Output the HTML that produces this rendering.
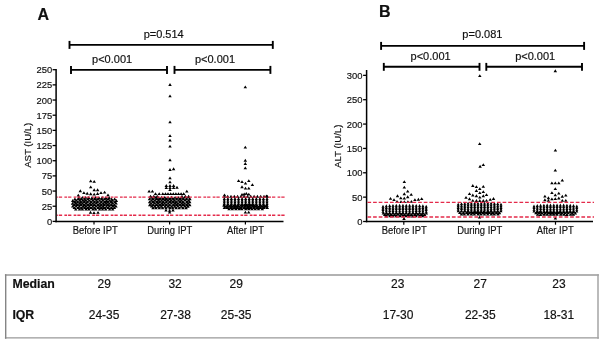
<!DOCTYPE html>
<html><head><meta charset="utf-8"><style>
html,body{margin:0;padding:0;background:#fff;width:604px;height:344px;overflow:hidden}
svg{display:block;will-change:transform}
text{font-family:"Liberation Sans",sans-serif;fill:#111;stroke:#111;stroke-width:0.18px}
</style></head><body>
<svg width="604" height="344" viewBox="0 0 604 344">
<line x1="56.10" y1="69.00" x2="56.10" y2="222.15" stroke="#000" stroke-width="1.50"/>
<line x1="55.35" y1="221.40" x2="283.50" y2="221.40" stroke="#000" stroke-width="1.50"/>
<line x1="52.60" y1="221.40" x2="56.10" y2="221.40" stroke="#000" stroke-width="1.30"/>
<text x="52.30" y="224.90" font-size="9.90" text-anchor="end" font-weight="normal" textLength="5.23" lengthAdjust="spacingAndGlyphs">0</text>
<line x1="52.60" y1="206.23" x2="56.10" y2="206.23" stroke="#000" stroke-width="1.30"/>
<text x="52.30" y="209.73" font-size="9.90" text-anchor="end" font-weight="normal" textLength="10.45" lengthAdjust="spacingAndGlyphs">25</text>
<line x1="52.60" y1="191.06" x2="56.10" y2="191.06" stroke="#000" stroke-width="1.30"/>
<text x="52.30" y="194.56" font-size="9.90" text-anchor="end" font-weight="normal" textLength="10.45" lengthAdjust="spacingAndGlyphs">50</text>
<line x1="52.60" y1="175.89" x2="56.10" y2="175.89" stroke="#000" stroke-width="1.30"/>
<text x="52.30" y="179.39" font-size="9.90" text-anchor="end" font-weight="normal" textLength="10.45" lengthAdjust="spacingAndGlyphs">75</text>
<line x1="52.60" y1="160.72" x2="56.10" y2="160.72" stroke="#000" stroke-width="1.30"/>
<text x="52.30" y="164.22" font-size="9.90" text-anchor="end" font-weight="normal" textLength="15.68" lengthAdjust="spacingAndGlyphs">100</text>
<line x1="52.60" y1="145.55" x2="56.10" y2="145.55" stroke="#000" stroke-width="1.30"/>
<text x="52.30" y="149.05" font-size="9.90" text-anchor="end" font-weight="normal" textLength="15.68" lengthAdjust="spacingAndGlyphs">125</text>
<line x1="52.60" y1="130.38" x2="56.10" y2="130.38" stroke="#000" stroke-width="1.30"/>
<text x="52.30" y="133.88" font-size="9.90" text-anchor="end" font-weight="normal" textLength="15.68" lengthAdjust="spacingAndGlyphs">150</text>
<line x1="52.60" y1="115.21" x2="56.10" y2="115.21" stroke="#000" stroke-width="1.30"/>
<text x="52.30" y="118.71" font-size="9.90" text-anchor="end" font-weight="normal" textLength="15.68" lengthAdjust="spacingAndGlyphs">175</text>
<line x1="52.60" y1="100.04" x2="56.10" y2="100.04" stroke="#000" stroke-width="1.30"/>
<text x="52.30" y="103.54" font-size="9.90" text-anchor="end" font-weight="normal" textLength="15.68" lengthAdjust="spacingAndGlyphs">200</text>
<line x1="52.60" y1="84.87" x2="56.10" y2="84.87" stroke="#000" stroke-width="1.30"/>
<text x="52.30" y="88.37" font-size="9.90" text-anchor="end" font-weight="normal" textLength="15.68" lengthAdjust="spacingAndGlyphs">225</text>
<line x1="52.60" y1="69.70" x2="56.10" y2="69.70" stroke="#000" stroke-width="1.30"/>
<text x="52.30" y="73.20" font-size="9.90" text-anchor="end" font-weight="normal" textLength="15.68" lengthAdjust="spacingAndGlyphs">250</text>
<line x1="94.00" y1="221.40" x2="94.00" y2="224.60" stroke="#000" stroke-width="1.20"/>
<text x="95.20" y="233.70" font-size="10.10" text-anchor="middle" font-weight="normal" textLength="44.99" lengthAdjust="spacingAndGlyphs">Before IPT</text>
<line x1="169.60" y1="221.40" x2="169.60" y2="224.60" stroke="#000" stroke-width="1.20"/>
<text x="169.80" y="233.70" font-size="10.10" text-anchor="middle" font-weight="normal" textLength="44.98" lengthAdjust="spacingAndGlyphs">During IPT</text>
<line x1="245.40" y1="221.40" x2="245.40" y2="224.60" stroke="#000" stroke-width="1.20"/>
<text x="245.50" y="233.70" font-size="10.10" text-anchor="middle" font-weight="normal" textLength="36.98" lengthAdjust="spacingAndGlyphs">After IPT</text>
<line x1="69.50" y1="44.90" x2="272.80" y2="44.90" stroke="#000" stroke-width="1.90"/>
<line x1="69.50" y1="40.90" x2="69.50" y2="48.90" stroke="#000" stroke-width="1.90"/>
<line x1="272.80" y1="40.90" x2="272.80" y2="48.90" stroke="#000" stroke-width="1.90"/>
<line x1="71.00" y1="69.90" x2="167.00" y2="69.90" stroke="#000" stroke-width="1.90"/>
<line x1="71.00" y1="65.90" x2="71.00" y2="73.90" stroke="#000" stroke-width="1.90"/>
<line x1="167.00" y1="65.90" x2="167.00" y2="73.90" stroke="#000" stroke-width="1.90"/>
<line x1="174.50" y1="69.90" x2="270.40" y2="69.90" stroke="#000" stroke-width="1.90"/>
<line x1="174.50" y1="65.90" x2="174.50" y2="73.90" stroke="#000" stroke-width="1.90"/>
<line x1="270.40" y1="65.90" x2="270.40" y2="73.90" stroke="#000" stroke-width="1.90"/>
<text x="163.70" y="38.30" font-size="11.00" text-anchor="middle" font-weight="normal">p=0.514</text>
<text x="112.10" y="62.90" font-size="11.00" text-anchor="middle" font-weight="normal">p&lt;0.001</text>
<text x="215.00" y="62.90" font-size="11.00" text-anchor="middle" font-weight="normal">p&lt;0.001</text>
<text x="37.60" y="19.60" font-size="16.00" text-anchor="start" font-weight="bold">A</text>
<text x="0.00" y="0.00" font-size="9.60" text-anchor="middle" font-weight="normal" transform="translate(30.9 145.3) rotate(-90)">AST (IU/L)</text>
<line x1="366.60" y1="70.00" x2="366.60" y2="222.25" stroke="#000" stroke-width="1.50"/>
<line x1="365.85" y1="221.50" x2="593.00" y2="221.50" stroke="#000" stroke-width="1.50"/>
<line x1="363.10" y1="221.50" x2="366.60" y2="221.50" stroke="#000" stroke-width="1.30"/>
<text x="362.50" y="225.00" font-size="9.90" text-anchor="end" font-weight="normal" textLength="5.23" lengthAdjust="spacingAndGlyphs">0</text>
<line x1="363.10" y1="197.14" x2="366.60" y2="197.14" stroke="#000" stroke-width="1.30"/>
<text x="362.50" y="200.64" font-size="9.90" text-anchor="end" font-weight="normal" textLength="10.45" lengthAdjust="spacingAndGlyphs">50</text>
<line x1="363.10" y1="172.78" x2="366.60" y2="172.78" stroke="#000" stroke-width="1.30"/>
<text x="362.50" y="176.28" font-size="9.90" text-anchor="end" font-weight="normal" textLength="15.68" lengthAdjust="spacingAndGlyphs">100</text>
<line x1="363.10" y1="148.43" x2="366.60" y2="148.43" stroke="#000" stroke-width="1.30"/>
<text x="362.50" y="151.93" font-size="9.90" text-anchor="end" font-weight="normal" textLength="15.68" lengthAdjust="spacingAndGlyphs">150</text>
<line x1="363.10" y1="124.07" x2="366.60" y2="124.07" stroke="#000" stroke-width="1.30"/>
<text x="362.50" y="127.57" font-size="9.90" text-anchor="end" font-weight="normal" textLength="15.68" lengthAdjust="spacingAndGlyphs">200</text>
<line x1="363.10" y1="99.71" x2="366.60" y2="99.71" stroke="#000" stroke-width="1.30"/>
<text x="362.50" y="103.21" font-size="9.90" text-anchor="end" font-weight="normal" textLength="15.68" lengthAdjust="spacingAndGlyphs">250</text>
<line x1="363.10" y1="75.35" x2="366.60" y2="75.35" stroke="#000" stroke-width="1.30"/>
<text x="362.50" y="78.85" font-size="9.90" text-anchor="end" font-weight="normal" textLength="15.68" lengthAdjust="spacingAndGlyphs">300</text>
<line x1="403.80" y1="221.50" x2="403.80" y2="224.70" stroke="#000" stroke-width="1.20"/>
<text x="404.20" y="233.90" font-size="10.10" text-anchor="middle" font-weight="normal" textLength="44.99" lengthAdjust="spacingAndGlyphs">Before IPT</text>
<line x1="479.40" y1="221.50" x2="479.40" y2="224.70" stroke="#000" stroke-width="1.20"/>
<text x="479.80" y="233.90" font-size="10.10" text-anchor="middle" font-weight="normal" textLength="44.98" lengthAdjust="spacingAndGlyphs">During IPT</text>
<line x1="555.50" y1="221.50" x2="555.50" y2="224.70" stroke="#000" stroke-width="1.20"/>
<text x="555.20" y="233.90" font-size="10.10" text-anchor="middle" font-weight="normal" textLength="36.98" lengthAdjust="spacingAndGlyphs">After IPT</text>
<line x1="381.10" y1="45.90" x2="584.10" y2="45.90" stroke="#000" stroke-width="1.90"/>
<line x1="381.10" y1="41.90" x2="381.10" y2="49.90" stroke="#000" stroke-width="1.90"/>
<line x1="584.10" y1="41.90" x2="584.10" y2="49.90" stroke="#000" stroke-width="1.90"/>
<line x1="383.80" y1="66.80" x2="479.50" y2="66.80" stroke="#000" stroke-width="1.90"/>
<line x1="383.80" y1="62.90" x2="383.80" y2="70.80" stroke="#000" stroke-width="1.90"/>
<line x1="479.50" y1="62.90" x2="479.50" y2="70.80" stroke="#000" stroke-width="1.90"/>
<line x1="486.30" y1="66.80" x2="582.00" y2="66.80" stroke="#000" stroke-width="1.90"/>
<line x1="486.30" y1="62.90" x2="486.30" y2="70.80" stroke="#000" stroke-width="1.90"/>
<line x1="582.00" y1="62.90" x2="582.00" y2="70.80" stroke="#000" stroke-width="1.90"/>
<text x="482.40" y="38.40" font-size="11.00" text-anchor="middle" font-weight="normal">p=0.081</text>
<text x="430.60" y="60.40" font-size="11.00" text-anchor="middle" font-weight="normal">p&lt;0.001</text>
<text x="535.20" y="59.60" font-size="11.00" text-anchor="middle" font-weight="normal">p&lt;0.001</text>
<text x="379.00" y="16.70" font-size="16.00" text-anchor="start" font-weight="bold">B</text>
<text x="0.00" y="0.00" font-size="9.60" text-anchor="middle" font-weight="normal" transform="translate(340.6 146.3) rotate(-90)">ALT (IU/L)</text>
<path d="M77.07 198.82h3.50l-1.75 -2.85zM80.62 198.80h3.50l-1.75 -2.85zM83.90 198.87h3.50l-1.75 -2.85zM86.96 198.90h3.50l-1.75 -2.85zM90.30 198.88h3.50l-1.75 -2.85zM93.67 198.80h3.50l-1.75 -2.85zM97.23 198.98h3.50l-1.75 -2.85zM100.40 198.83h3.50l-1.75 -2.85zM104.05 199.01h3.50l-1.75 -2.85zM107.37 198.88h3.50l-1.75 -2.85zM73.16 200.24h3.50l-1.75 -2.85zM76.44 200.30h3.50l-1.75 -2.85zM79.36 200.26h3.50l-1.75 -2.85zM82.81 200.43h3.50l-1.75 -2.85zM86.08 200.37h3.50l-1.75 -2.85zM89.71 200.32h3.50l-1.75 -2.85zM93.01 200.25h3.50l-1.75 -2.85zM96.06 200.28h3.50l-1.75 -2.85zM99.78 200.33h3.50l-1.75 -2.85zM102.92 200.37h3.50l-1.75 -2.85zM106.35 200.30h3.50l-1.75 -2.85zM109.90 200.40h3.50l-1.75 -2.85zM112.92 200.37h3.50l-1.75 -2.85zM70.99 201.89h3.50l-1.75 -2.85zM74.46 201.75h3.50l-1.75 -2.85zM77.96 201.71h3.50l-1.75 -2.85zM80.98 201.86h3.50l-1.75 -2.85zM84.17 201.80h3.50l-1.75 -2.85zM87.45 201.84h3.50l-1.75 -2.85zM91.23 201.82h3.50l-1.75 -2.85zM94.65 201.76h3.50l-1.75 -2.85zM97.89 201.82h3.50l-1.75 -2.85zM101.17 201.79h3.50l-1.75 -2.85zM104.68 201.91h3.50l-1.75 -2.85zM107.81 201.84h3.50l-1.75 -2.85zM110.91 201.85h3.50l-1.75 -2.85zM114.61 201.92h3.50l-1.75 -2.85zM72.84 203.20h3.50l-1.75 -2.85zM75.93 203.29h3.50l-1.75 -2.85zM79.06 203.24h3.50l-1.75 -2.85zM82.50 203.16h3.50l-1.75 -2.85zM85.79 203.31h3.50l-1.75 -2.85zM89.18 203.19h3.50l-1.75 -2.85zM92.68 203.34h3.50l-1.75 -2.85zM95.85 203.24h3.50l-1.75 -2.85zM99.48 203.34h3.50l-1.75 -2.85zM102.99 203.34h3.50l-1.75 -2.85zM106.02 203.23h3.50l-1.75 -2.85zM109.42 203.34h3.50l-1.75 -2.85zM113.12 203.17h3.50l-1.75 -2.85zM70.78 204.64h3.50l-1.75 -2.85zM74.17 204.70h3.50l-1.75 -2.85zM77.73 204.64h3.50l-1.75 -2.85zM80.73 204.68h3.50l-1.75 -2.85zM84.30 204.72h3.50l-1.75 -2.85zM88.00 204.75h3.50l-1.75 -2.85zM91.08 204.73h3.50l-1.75 -2.85zM94.53 204.59h3.50l-1.75 -2.85zM98.01 204.77h3.50l-1.75 -2.85zM101.35 204.77h3.50l-1.75 -2.85zM104.41 204.68h3.50l-1.75 -2.85zM107.59 204.73h3.50l-1.75 -2.85zM110.91 204.60h3.50l-1.75 -2.85zM114.35 204.62h3.50l-1.75 -2.85zM72.55 206.04h3.50l-1.75 -2.85zM75.70 206.07h3.50l-1.75 -2.85zM79.11 206.12h3.50l-1.75 -2.85zM82.42 206.24h3.50l-1.75 -2.85zM86.12 206.07h3.50l-1.75 -2.85zM89.25 206.11h3.50l-1.75 -2.85zM92.67 206.06h3.50l-1.75 -2.85zM96.31 206.27h3.50l-1.75 -2.85zM99.43 206.15h3.50l-1.75 -2.85zM102.55 206.05h3.50l-1.75 -2.85zM106.06 206.09h3.50l-1.75 -2.85zM109.70 206.07h3.50l-1.75 -2.85zM112.56 206.26h3.50l-1.75 -2.85zM70.99 207.52h3.50l-1.75 -2.85zM74.35 207.49h3.50l-1.75 -2.85zM77.69 207.71h3.50l-1.75 -2.85zM81.24 207.65h3.50l-1.75 -2.85zM84.23 207.57h3.50l-1.75 -2.85zM87.53 207.67h3.50l-1.75 -2.85zM91.09 207.67h3.50l-1.75 -2.85zM94.32 207.53h3.50l-1.75 -2.85zM97.96 207.72h3.50l-1.75 -2.85zM101.34 207.67h3.50l-1.75 -2.85zM104.67 207.66h3.50l-1.75 -2.85zM107.66 207.60h3.50l-1.75 -2.85zM111.09 207.49h3.50l-1.75 -2.85zM114.24 207.55h3.50l-1.75 -2.85zM72.51 209.10h3.50l-1.75 -2.85zM76.27 209.04h3.50l-1.75 -2.85zM79.61 209.17h3.50l-1.75 -2.85zM82.97 209.02h3.50l-1.75 -2.85zM85.88 208.98h3.50l-1.75 -2.85zM89.22 208.98h3.50l-1.75 -2.85zM92.82 209.15h3.50l-1.75 -2.85zM96.30 209.05h3.50l-1.75 -2.85zM99.54 209.12h3.50l-1.75 -2.85zM102.55 209.09h3.50l-1.75 -2.85zM106.40 209.12h3.50l-1.75 -2.85zM109.65 209.04h3.50l-1.75 -2.85zM112.66 209.12h3.50l-1.75 -2.85zM73.97 210.57h3.50l-1.75 -2.85zM77.71 210.48h3.50l-1.75 -2.85zM80.72 210.61h3.50l-1.75 -2.85zM84.26 210.42h3.50l-1.75 -2.85zM87.25 210.42h3.50l-1.75 -2.85zM91.07 210.57h3.50l-1.75 -2.85zM93.96 210.58h3.50l-1.75 -2.85zM97.81 210.54h3.50l-1.75 -2.85zM100.79 210.51h3.50l-1.75 -2.85zM104.00 210.38h3.50l-1.75 -2.85zM107.86 210.54h3.50l-1.75 -2.85zM110.94 210.60h3.50l-1.75 -2.85zM88.95 182.30h3.50l-1.75 -2.85zM92.45 182.80h3.50l-1.75 -2.85zM88.95 188.30h3.50l-1.75 -2.85zM92.45 191.20h3.50l-1.75 -2.85zM95.85 191.20h3.50l-1.75 -2.85zM78.55 192.20h3.50l-1.75 -2.85zM82.15 194.10h3.50l-1.75 -2.85zM85.45 194.70h3.50l-1.75 -2.85zM88.95 195.20h3.50l-1.75 -2.85zM92.45 195.50h3.50l-1.75 -2.85zM95.85 194.90h3.50l-1.75 -2.85zM99.25 194.10h3.50l-1.75 -2.85zM102.85 193.50h3.50l-1.75 -2.85zM76.55 196.50h3.50l-1.75 -2.85zM106.25 196.30h3.50l-1.75 -2.85zM92.25 214.10h3.50l-1.75 -2.85zM88.75 213.70h3.50l-1.75 -2.85zM96.25 213.80h3.50l-1.75 -2.85zM149.79 198.79h3.50l-1.75 -2.85zM153.37 198.63h3.50l-1.75 -2.85zM156.38 198.65h3.50l-1.75 -2.85zM159.72 198.72h3.50l-1.75 -2.85zM163.08 198.68h3.50l-1.75 -2.85zM166.35 198.80h3.50l-1.75 -2.85zM169.84 198.69h3.50l-1.75 -2.85zM173.33 198.80h3.50l-1.75 -2.85zM176.58 198.80h3.50l-1.75 -2.85zM179.98 198.71h3.50l-1.75 -2.85zM183.34 198.58h3.50l-1.75 -2.85zM186.64 198.62h3.50l-1.75 -2.85zM147.70 200.27h3.50l-1.75 -2.85zM151.15 200.19h3.50l-1.75 -2.85zM154.84 200.21h3.50l-1.75 -2.85zM157.95 200.20h3.50l-1.75 -2.85zM161.43 200.27h3.50l-1.75 -2.85zM164.51 200.21h3.50l-1.75 -2.85zM167.95 200.15h3.50l-1.75 -2.85zM171.61 200.20h3.50l-1.75 -2.85zM174.84 200.26h3.50l-1.75 -2.85zM178.40 200.19h3.50l-1.75 -2.85zM181.57 200.20h3.50l-1.75 -2.85zM184.86 200.25h3.50l-1.75 -2.85zM188.17 200.21h3.50l-1.75 -2.85zM149.66 201.81h3.50l-1.75 -2.85zM153.14 201.79h3.50l-1.75 -2.85zM156.64 201.64h3.50l-1.75 -2.85zM159.76 201.81h3.50l-1.75 -2.85zM163.28 201.61h3.50l-1.75 -2.85zM166.20 201.69h3.50l-1.75 -2.85zM169.52 201.64h3.50l-1.75 -2.85zM172.87 201.74h3.50l-1.75 -2.85zM176.65 201.80h3.50l-1.75 -2.85zM179.62 201.75h3.50l-1.75 -2.85zM183.27 201.61h3.50l-1.75 -2.85zM186.75 201.81h3.50l-1.75 -2.85zM147.83 203.31h3.50l-1.75 -2.85zM151.29 203.20h3.50l-1.75 -2.85zM154.99 203.28h3.50l-1.75 -2.85zM157.85 203.18h3.50l-1.75 -2.85zM161.41 203.16h3.50l-1.75 -2.85zM164.57 203.16h3.50l-1.75 -2.85zM168.23 203.08h3.50l-1.75 -2.85zM171.48 203.19h3.50l-1.75 -2.85zM174.51 203.16h3.50l-1.75 -2.85zM178.22 203.20h3.50l-1.75 -2.85zM181.24 203.32h3.50l-1.75 -2.85zM185.02 203.31h3.50l-1.75 -2.85zM187.96 203.14h3.50l-1.75 -2.85zM149.40 204.77h3.50l-1.75 -2.85zM152.89 204.61h3.50l-1.75 -2.85zM156.33 204.80h3.50l-1.75 -2.85zM159.92 204.64h3.50l-1.75 -2.85zM162.86 204.80h3.50l-1.75 -2.85zM166.47 204.75h3.50l-1.75 -2.85zM169.53 204.59h3.50l-1.75 -2.85zM173.24 204.68h3.50l-1.75 -2.85zM176.22 204.81h3.50l-1.75 -2.85zM179.91 204.77h3.50l-1.75 -2.85zM182.93 204.79h3.50l-1.75 -2.85zM186.26 204.79h3.50l-1.75 -2.85zM147.97 206.16h3.50l-1.75 -2.85zM151.38 206.30h3.50l-1.75 -2.85zM154.56 206.11h3.50l-1.75 -2.85zM158.07 206.14h3.50l-1.75 -2.85zM161.17 206.12h3.50l-1.75 -2.85zM164.48 206.13h3.50l-1.75 -2.85zM167.99 206.15h3.50l-1.75 -2.85zM171.61 206.15h3.50l-1.75 -2.85zM174.80 206.12h3.50l-1.75 -2.85zM178.06 206.08h3.50l-1.75 -2.85zM181.35 206.08h3.50l-1.75 -2.85zM184.99 206.21h3.50l-1.75 -2.85zM188.01 206.19h3.50l-1.75 -2.85zM149.89 207.61h3.50l-1.75 -2.85zM153.17 207.68h3.50l-1.75 -2.85zM156.33 207.78h3.50l-1.75 -2.85zM159.61 207.70h3.50l-1.75 -2.85zM163.14 207.82h3.50l-1.75 -2.85zM166.28 207.78h3.50l-1.75 -2.85zM169.85 207.73h3.50l-1.75 -2.85zM173.02 207.66h3.50l-1.75 -2.85zM176.16 207.61h3.50l-1.75 -2.85zM179.52 207.76h3.50l-1.75 -2.85zM182.98 207.62h3.50l-1.75 -2.85zM186.23 207.78h3.50l-1.75 -2.85zM151.22 209.24h3.50l-1.75 -2.85zM154.22 209.14h3.50l-1.75 -2.85zM157.58 209.19h3.50l-1.75 -2.85zM160.84 209.19h3.50l-1.75 -2.85zM164.26 209.31h3.50l-1.75 -2.85zM168.03 209.21h3.50l-1.75 -2.85zM170.95 209.31h3.50l-1.75 -2.85zM174.34 209.17h3.50l-1.75 -2.85zM177.50 209.17h3.50l-1.75 -2.85zM181.13 209.20h3.50l-1.75 -2.85zM184.32 209.20h3.50l-1.75 -2.85zM148.75 197.60h3.50l-1.75 -2.85zM152.05 197.60h3.50l-1.75 -2.85zM155.45 197.60h3.50l-1.75 -2.85zM180.25 197.60h3.50l-1.75 -2.85zM183.55 197.60h3.50l-1.75 -2.85zM186.85 197.60h3.50l-1.75 -2.85zM153.75 195.00h3.50l-1.75 -2.85zM157.45 195.00h3.50l-1.75 -2.85zM161.05 195.00h3.50l-1.75 -2.85zM163.75 195.00h3.50l-1.75 -2.85zM166.25 195.00h3.50l-1.75 -2.85zM168.95 195.00h3.50l-1.75 -2.85zM171.55 195.00h3.50l-1.75 -2.85zM174.15 195.00h3.50l-1.75 -2.85zM176.75 195.00h3.50l-1.75 -2.85zM179.35 195.00h3.50l-1.75 -2.85zM181.95 195.00h3.50l-1.75 -2.85zM147.35 192.60h3.50l-1.75 -2.85zM150.65 192.60h3.50l-1.75 -2.85zM185.05 192.60h3.50l-1.75 -2.85zM168.25 191.10h3.50l-1.75 -2.85zM164.55 189.00h3.50l-1.75 -2.85zM168.25 189.00h3.50l-1.75 -2.85zM171.85 189.00h3.50l-1.75 -2.85zM175.25 188.70h3.50l-1.75 -2.85zM164.55 186.90h3.50l-1.75 -2.85zM168.25 186.90h3.50l-1.75 -2.85zM171.85 186.90h3.50l-1.75 -2.85zM168.25 183.30h3.50l-1.75 -2.85zM168.25 179.30h3.50l-1.75 -2.85zM168.25 170.90h3.50l-1.75 -2.85zM171.85 170.20h3.50l-1.75 -2.85zM168.25 161.30h3.50l-1.75 -2.85zM168.25 147.60h3.50l-1.75 -2.85zM168.25 141.60h3.50l-1.75 -2.85zM168.25 137.10h3.50l-1.75 -2.85zM168.25 123.30h3.50l-1.75 -2.85zM168.25 97.30h3.50l-1.75 -2.85zM168.25 85.90h3.50l-1.75 -2.85zM167.85 211.80h3.50l-1.75 -2.85zM164.25 211.60h3.50l-1.75 -2.85zM171.25 211.60h3.50l-1.75 -2.85zM167.85 213.50h3.50l-1.75 -2.85zM222.65 197.70h3.50l-1.75 -2.85zM225.95 197.70h3.50l-1.75 -2.85zM229.25 197.70h3.50l-1.75 -2.85zM232.55 197.70h3.50l-1.75 -2.85zM235.85 197.70h3.50l-1.75 -2.85zM239.15 197.70h3.50l-1.75 -2.85zM242.45 197.70h3.50l-1.75 -2.85zM245.75 197.70h3.50l-1.75 -2.85zM249.05 197.70h3.50l-1.75 -2.85zM252.35 197.70h3.50l-1.75 -2.85zM255.65 197.70h3.50l-1.75 -2.85zM258.95 197.70h3.50l-1.75 -2.85zM262.25 197.70h3.50l-1.75 -2.85zM265.55 197.70h3.50l-1.75 -2.85zM222.70 199.90h3.20l-1.60 -2.85zM222.70 201.60h3.20l-1.60 -2.85zM222.70 203.30h3.20l-1.60 -2.85zM222.70 205.00h3.20l-1.60 -2.85zM222.70 206.70h3.20l-1.60 -2.85zM226.26 199.90h3.20l-1.60 -2.85zM226.26 201.60h3.20l-1.60 -2.85zM226.26 203.30h3.20l-1.60 -2.85zM226.26 205.00h3.20l-1.60 -2.85zM226.26 206.70h3.20l-1.60 -2.85zM229.82 199.90h3.20l-1.60 -2.85zM229.82 201.60h3.20l-1.60 -2.85zM229.82 203.30h3.20l-1.60 -2.85zM229.82 205.00h3.20l-1.60 -2.85zM229.82 206.70h3.20l-1.60 -2.85zM233.38 199.90h3.20l-1.60 -2.85zM233.38 201.60h3.20l-1.60 -2.85zM233.38 203.30h3.20l-1.60 -2.85zM233.38 205.00h3.20l-1.60 -2.85zM233.38 206.70h3.20l-1.60 -2.85zM236.93 199.90h3.20l-1.60 -2.85zM236.93 201.60h3.20l-1.60 -2.85zM236.93 203.30h3.20l-1.60 -2.85zM236.93 205.00h3.20l-1.60 -2.85zM236.93 206.70h3.20l-1.60 -2.85zM240.49 199.90h3.20l-1.60 -2.85zM240.49 201.60h3.20l-1.60 -2.85zM240.49 203.30h3.20l-1.60 -2.85zM240.49 205.00h3.20l-1.60 -2.85zM240.49 206.70h3.20l-1.60 -2.85zM244.05 199.90h3.20l-1.60 -2.85zM244.05 201.60h3.20l-1.60 -2.85zM244.05 203.30h3.20l-1.60 -2.85zM244.05 205.00h3.20l-1.60 -2.85zM244.05 206.70h3.20l-1.60 -2.85zM247.61 199.90h3.20l-1.60 -2.85zM247.61 201.60h3.20l-1.60 -2.85zM247.61 203.30h3.20l-1.60 -2.85zM247.61 205.00h3.20l-1.60 -2.85zM247.61 206.70h3.20l-1.60 -2.85zM251.17 199.90h3.20l-1.60 -2.85zM251.17 201.60h3.20l-1.60 -2.85zM251.17 203.30h3.20l-1.60 -2.85zM251.17 205.00h3.20l-1.60 -2.85zM251.17 206.70h3.20l-1.60 -2.85zM254.72 199.90h3.20l-1.60 -2.85zM254.72 201.60h3.20l-1.60 -2.85zM254.72 203.30h3.20l-1.60 -2.85zM254.72 205.00h3.20l-1.60 -2.85zM254.72 206.70h3.20l-1.60 -2.85zM258.28 199.90h3.20l-1.60 -2.85zM258.28 201.60h3.20l-1.60 -2.85zM258.28 203.30h3.20l-1.60 -2.85zM258.28 205.00h3.20l-1.60 -2.85zM258.28 206.70h3.20l-1.60 -2.85zM261.84 199.90h3.20l-1.60 -2.85zM261.84 201.60h3.20l-1.60 -2.85zM261.84 203.30h3.20l-1.60 -2.85zM261.84 205.00h3.20l-1.60 -2.85zM261.84 206.70h3.20l-1.60 -2.85zM265.40 199.90h3.20l-1.60 -2.85zM265.40 201.60h3.20l-1.60 -2.85zM265.40 203.30h3.20l-1.60 -2.85zM265.40 205.00h3.20l-1.60 -2.85zM265.40 206.70h3.20l-1.60 -2.85zM222.20 206.44h3.50l-1.75 -2.85zM225.55 206.48h3.50l-1.75 -2.85zM228.83 206.39h3.50l-1.75 -2.85zM232.28 206.44h3.50l-1.75 -2.85zM235.75 206.51h3.50l-1.75 -2.85zM239.15 206.54h3.50l-1.75 -2.85zM242.43 206.59h3.50l-1.75 -2.85zM245.53 206.46h3.50l-1.75 -2.85zM249.19 206.42h3.50l-1.75 -2.85zM252.33 206.53h3.50l-1.75 -2.85zM255.23 206.58h3.50l-1.75 -2.85zM259.04 206.53h3.50l-1.75 -2.85zM262.24 206.57h3.50l-1.75 -2.85zM265.18 206.51h3.50l-1.75 -2.85zM224.15 207.83h3.50l-1.75 -2.85zM227.63 207.83h3.50l-1.75 -2.85zM230.80 207.84h3.50l-1.75 -2.85zM234.16 207.80h3.50l-1.75 -2.85zM237.19 207.64h3.50l-1.75 -2.85zM240.43 207.72h3.50l-1.75 -2.85zM243.71 207.83h3.50l-1.75 -2.85zM247.29 207.78h3.50l-1.75 -2.85zM250.63 207.79h3.50l-1.75 -2.85zM253.84 207.63h3.50l-1.75 -2.85zM257.33 207.81h3.50l-1.75 -2.85zM260.45 207.76h3.50l-1.75 -2.85zM263.85 207.65h3.50l-1.75 -2.85zM222.64 208.94h3.50l-1.75 -2.85zM225.54 208.94h3.50l-1.75 -2.85zM229.24 208.93h3.50l-1.75 -2.85zM232.54 209.11h3.50l-1.75 -2.85zM235.70 208.97h3.50l-1.75 -2.85zM238.99 209.04h3.50l-1.75 -2.85zM242.46 209.03h3.50l-1.75 -2.85zM245.69 208.90h3.50l-1.75 -2.85zM248.69 208.94h3.50l-1.75 -2.85zM252.35 208.95h3.50l-1.75 -2.85zM255.54 208.88h3.50l-1.75 -2.85zM258.54 208.94h3.50l-1.75 -2.85zM262.20 209.05h3.50l-1.75 -2.85zM265.51 208.95h3.50l-1.75 -2.85zM227.27 210.24h3.50l-1.75 -2.85zM230.54 210.16h3.50l-1.75 -2.85zM234.10 210.18h3.50l-1.75 -2.85zM237.45 210.35h3.50l-1.75 -2.85zM240.17 210.24h3.50l-1.75 -2.85zM243.95 210.36h3.50l-1.75 -2.85zM247.03 210.19h3.50l-1.75 -2.85zM250.19 210.36h3.50l-1.75 -2.85zM253.49 210.27h3.50l-1.75 -2.85zM256.75 210.26h3.50l-1.75 -2.85zM260.53 210.16h3.50l-1.75 -2.85zM243.55 88.30h3.50l-1.75 -2.85zM243.55 148.60h3.50l-1.75 -2.85zM243.55 161.70h3.50l-1.75 -2.85zM243.55 164.90h3.50l-1.75 -2.85zM243.55 169.30h3.50l-1.75 -2.85zM236.85 182.10h3.50l-1.75 -2.85zM240.25 183.10h3.50l-1.75 -2.85zM243.75 184.60h3.50l-1.75 -2.85zM247.05 182.10h3.50l-1.75 -2.85zM250.65 186.10h3.50l-1.75 -2.85zM240.25 188.20h3.50l-1.75 -2.85zM243.75 189.50h3.50l-1.75 -2.85zM247.05 189.50h3.50l-1.75 -2.85zM240.25 195.80h3.50l-1.75 -2.85zM242.45 195.30h3.50l-1.75 -2.85zM244.55 194.80h3.50l-1.75 -2.85zM247.05 195.60h3.50l-1.75 -2.85zM222.75 196.30h3.50l-1.75 -2.85zM264.65 197.30h3.50l-1.75 -2.85zM243.65 213.50h3.50l-1.75 -2.85zM246.95 213.50h3.50l-1.75 -2.85zM381.45 207.70h3.10l-1.55 -2.85zM381.45 209.40h3.10l-1.55 -2.85zM381.45 211.10h3.10l-1.55 -2.85zM381.45 212.80h3.10l-1.55 -2.85zM384.77 207.21h3.10l-1.55 -2.85zM384.77 208.91h3.10l-1.55 -2.85zM384.77 210.61h3.10l-1.55 -2.85zM384.77 212.31h3.10l-1.55 -2.85zM384.77 214.01h3.10l-1.55 -2.85zM388.10 206.93h3.10l-1.55 -2.85zM388.10 208.63h3.10l-1.55 -2.85zM388.10 210.33h3.10l-1.55 -2.85zM388.10 212.03h3.10l-1.55 -2.85zM388.10 213.73h3.10l-1.55 -2.85zM391.42 206.78h3.10l-1.55 -2.85zM391.42 208.48h3.10l-1.55 -2.85zM391.42 210.18h3.10l-1.55 -2.85zM391.42 211.88h3.10l-1.55 -2.85zM391.42 213.58h3.10l-1.55 -2.85zM394.74 206.72h3.10l-1.55 -2.85zM394.74 208.42h3.10l-1.55 -2.85zM394.74 210.12h3.10l-1.55 -2.85zM394.74 211.82h3.10l-1.55 -2.85zM394.74 213.52h3.10l-1.55 -2.85zM398.07 206.70h3.10l-1.55 -2.85zM398.07 208.40h3.10l-1.55 -2.85zM398.07 210.10h3.10l-1.55 -2.85zM398.07 211.80h3.10l-1.55 -2.85zM398.07 213.50h3.10l-1.55 -2.85zM401.39 206.70h3.10l-1.55 -2.85zM401.39 208.40h3.10l-1.55 -2.85zM401.39 210.10h3.10l-1.55 -2.85zM401.39 211.80h3.10l-1.55 -2.85zM401.39 213.50h3.10l-1.55 -2.85zM404.71 206.70h3.10l-1.55 -2.85zM404.71 208.40h3.10l-1.55 -2.85zM404.71 210.10h3.10l-1.55 -2.85zM404.71 211.80h3.10l-1.55 -2.85zM404.71 213.50h3.10l-1.55 -2.85zM408.03 206.70h3.10l-1.55 -2.85zM408.03 208.40h3.10l-1.55 -2.85zM408.03 210.10h3.10l-1.55 -2.85zM408.03 211.80h3.10l-1.55 -2.85zM408.03 213.50h3.10l-1.55 -2.85zM411.36 206.72h3.10l-1.55 -2.85zM411.36 208.42h3.10l-1.55 -2.85zM411.36 210.12h3.10l-1.55 -2.85zM411.36 211.82h3.10l-1.55 -2.85zM411.36 213.52h3.10l-1.55 -2.85zM414.68 206.78h3.10l-1.55 -2.85zM414.68 208.48h3.10l-1.55 -2.85zM414.68 210.18h3.10l-1.55 -2.85zM414.68 211.88h3.10l-1.55 -2.85zM414.68 213.58h3.10l-1.55 -2.85zM418.00 206.93h3.10l-1.55 -2.85zM418.00 208.63h3.10l-1.55 -2.85zM418.00 210.33h3.10l-1.55 -2.85zM418.00 212.03h3.10l-1.55 -2.85zM418.00 213.73h3.10l-1.55 -2.85zM421.33 207.21h3.10l-1.55 -2.85zM421.33 208.91h3.10l-1.55 -2.85zM421.33 210.61h3.10l-1.55 -2.85zM421.33 212.31h3.10l-1.55 -2.85zM421.33 214.01h3.10l-1.55 -2.85zM424.65 207.70h3.10l-1.55 -2.85zM424.65 209.40h3.10l-1.55 -2.85zM424.65 211.10h3.10l-1.55 -2.85zM424.65 212.80h3.10l-1.55 -2.85zM381.59 214.50h3.50l-1.75 -2.85zM384.93 214.55h3.50l-1.75 -2.85zM387.84 214.60h3.50l-1.75 -2.85zM391.29 214.39h3.50l-1.75 -2.85zM394.30 214.50h3.50l-1.75 -2.85zM397.87 214.45h3.50l-1.75 -2.85zM400.98 214.46h3.50l-1.75 -2.85zM404.39 214.58h3.50l-1.75 -2.85zM407.50 214.56h3.50l-1.75 -2.85zM411.30 214.41h3.50l-1.75 -2.85zM414.66 214.55h3.50l-1.75 -2.85zM417.94 214.45h3.50l-1.75 -2.85zM420.92 214.47h3.50l-1.75 -2.85zM424.60 214.52h3.50l-1.75 -2.85zM382.97 215.88h3.50l-1.75 -2.85zM386.22 215.79h3.50l-1.75 -2.85zM389.41 215.98h3.50l-1.75 -2.85zM392.82 216.00h3.50l-1.75 -2.85zM396.10 215.84h3.50l-1.75 -2.85zM399.56 215.83h3.50l-1.75 -2.85zM402.77 216.01h3.50l-1.75 -2.85zM406.38 215.97h3.50l-1.75 -2.85zM409.53 216.00h3.50l-1.75 -2.85zM413.01 215.91h3.50l-1.75 -2.85zM416.18 215.79h3.50l-1.75 -2.85zM419.49 215.89h3.50l-1.75 -2.85zM422.80 215.93h3.50l-1.75 -2.85zM384.47 217.19h3.50l-1.75 -2.85zM388.16 217.21h3.50l-1.75 -2.85zM391.18 217.26h3.50l-1.75 -2.85zM394.38 217.36h3.50l-1.75 -2.85zM398.09 217.24h3.50l-1.75 -2.85zM401.19 217.25h3.50l-1.75 -2.85zM404.43 217.27h3.50l-1.75 -2.85zM407.50 217.22h3.50l-1.75 -2.85zM410.82 217.40h3.50l-1.75 -2.85zM414.30 217.23h3.50l-1.75 -2.85zM417.84 217.42h3.50l-1.75 -2.85zM420.87 217.21h3.50l-1.75 -2.85zM402.55 183.00h3.50l-1.75 -2.85zM402.55 188.60h3.50l-1.75 -2.85zM405.95 192.60h3.50l-1.75 -2.85zM402.55 195.20h3.50l-1.75 -2.85zM409.45 195.80h3.50l-1.75 -2.85zM395.75 197.20h3.50l-1.75 -2.85zM405.95 198.20h3.50l-1.75 -2.85zM388.75 199.80h3.50l-1.75 -2.85zM399.05 199.30h3.50l-1.75 -2.85zM402.55 199.60h3.50l-1.75 -2.85zM392.25 201.00h3.50l-1.75 -2.85zM413.15 201.00h3.50l-1.75 -2.85zM416.65 200.70h3.50l-1.75 -2.85zM419.95 200.00h3.50l-1.75 -2.85zM395.25 202.80h3.50l-1.75 -2.85zM399.25 203.00h3.50l-1.75 -2.85zM402.65 203.00h3.50l-1.75 -2.85zM406.15 203.00h3.50l-1.75 -2.85zM409.65 202.80h3.50l-1.75 -2.85zM402.25 219.90h3.50l-1.75 -2.85zM456.65 205.50h3.10l-1.55 -2.85zM456.65 207.20h3.10l-1.55 -2.85zM456.65 208.90h3.10l-1.55 -2.85zM456.65 210.60h3.10l-1.55 -2.85zM456.65 212.30h3.10l-1.55 -2.85zM459.94 205.01h3.10l-1.55 -2.85zM459.94 206.71h3.10l-1.55 -2.85zM459.94 208.41h3.10l-1.55 -2.85zM459.94 210.11h3.10l-1.55 -2.85zM459.94 211.81h3.10l-1.55 -2.85zM463.23 204.73h3.10l-1.55 -2.85zM463.23 206.43h3.10l-1.55 -2.85zM463.23 208.13h3.10l-1.55 -2.85zM463.23 209.83h3.10l-1.55 -2.85zM463.23 211.53h3.10l-1.55 -2.85zM466.53 204.58h3.10l-1.55 -2.85zM466.53 206.28h3.10l-1.55 -2.85zM466.53 207.98h3.10l-1.55 -2.85zM466.53 209.68h3.10l-1.55 -2.85zM466.53 211.38h3.10l-1.55 -2.85zM469.82 204.52h3.10l-1.55 -2.85zM469.82 206.22h3.10l-1.55 -2.85zM469.82 207.92h3.10l-1.55 -2.85zM469.82 209.62h3.10l-1.55 -2.85zM469.82 211.32h3.10l-1.55 -2.85zM469.82 213.02h3.10l-1.55 -2.85zM473.11 204.50h3.10l-1.55 -2.85zM473.11 206.20h3.10l-1.55 -2.85zM473.11 207.90h3.10l-1.55 -2.85zM473.11 209.60h3.10l-1.55 -2.85zM473.11 211.30h3.10l-1.55 -2.85zM473.11 213.00h3.10l-1.55 -2.85zM476.40 204.50h3.10l-1.55 -2.85zM476.40 206.20h3.10l-1.55 -2.85zM476.40 207.90h3.10l-1.55 -2.85zM476.40 209.60h3.10l-1.55 -2.85zM476.40 211.30h3.10l-1.55 -2.85zM476.40 213.00h3.10l-1.55 -2.85zM479.70 204.50h3.10l-1.55 -2.85zM479.70 206.20h3.10l-1.55 -2.85zM479.70 207.90h3.10l-1.55 -2.85zM479.70 209.60h3.10l-1.55 -2.85zM479.70 211.30h3.10l-1.55 -2.85zM479.70 213.00h3.10l-1.55 -2.85zM482.99 204.50h3.10l-1.55 -2.85zM482.99 206.20h3.10l-1.55 -2.85zM482.99 207.90h3.10l-1.55 -2.85zM482.99 209.60h3.10l-1.55 -2.85zM482.99 211.30h3.10l-1.55 -2.85zM482.99 213.00h3.10l-1.55 -2.85zM486.28 204.52h3.10l-1.55 -2.85zM486.28 206.22h3.10l-1.55 -2.85zM486.28 207.92h3.10l-1.55 -2.85zM486.28 209.62h3.10l-1.55 -2.85zM486.28 211.32h3.10l-1.55 -2.85zM486.28 213.02h3.10l-1.55 -2.85zM489.57 204.58h3.10l-1.55 -2.85zM489.57 206.28h3.10l-1.55 -2.85zM489.57 207.98h3.10l-1.55 -2.85zM489.57 209.68h3.10l-1.55 -2.85zM489.57 211.38h3.10l-1.55 -2.85zM492.87 204.73h3.10l-1.55 -2.85zM492.87 206.43h3.10l-1.55 -2.85zM492.87 208.13h3.10l-1.55 -2.85zM492.87 209.83h3.10l-1.55 -2.85zM492.87 211.53h3.10l-1.55 -2.85zM496.16 205.01h3.10l-1.55 -2.85zM496.16 206.71h3.10l-1.55 -2.85zM496.16 208.41h3.10l-1.55 -2.85zM496.16 210.11h3.10l-1.55 -2.85zM496.16 211.81h3.10l-1.55 -2.85zM499.45 205.50h3.10l-1.55 -2.85zM499.45 207.20h3.10l-1.55 -2.85zM499.45 208.90h3.10l-1.55 -2.85zM499.45 210.60h3.10l-1.55 -2.85zM499.45 212.30h3.10l-1.55 -2.85zM459.52 212.60h3.50l-1.75 -2.85zM462.91 212.60h3.50l-1.75 -2.85zM466.14 212.64h3.50l-1.75 -2.85zM469.64 212.79h3.50l-1.75 -2.85zM473.05 212.68h3.50l-1.75 -2.85zM476.15 212.71h3.50l-1.75 -2.85zM479.43 212.66h3.50l-1.75 -2.85zM482.54 212.65h3.50l-1.75 -2.85zM486.38 212.61h3.50l-1.75 -2.85zM489.40 212.73h3.50l-1.75 -2.85zM492.92 212.63h3.50l-1.75 -2.85zM495.86 212.64h3.50l-1.75 -2.85zM457.99 214.09h3.50l-1.75 -2.85zM461.62 214.18h3.50l-1.75 -2.85zM464.87 213.99h3.50l-1.75 -2.85zM467.67 214.15h3.50l-1.75 -2.85zM471.49 214.09h3.50l-1.75 -2.85zM474.60 213.98h3.50l-1.75 -2.85zM477.78 214.20h3.50l-1.75 -2.85zM481.35 214.19h3.50l-1.75 -2.85zM484.73 214.04h3.50l-1.75 -2.85zM487.52 214.02h3.50l-1.75 -2.85zM491.06 214.14h3.50l-1.75 -2.85zM494.61 214.15h3.50l-1.75 -2.85zM497.74 214.16h3.50l-1.75 -2.85zM459.64 215.51h3.50l-1.75 -2.85zM462.69 215.57h3.50l-1.75 -2.85zM466.11 215.60h3.50l-1.75 -2.85zM469.66 215.45h3.50l-1.75 -2.85zM472.65 215.44h3.50l-1.75 -2.85zM476.25 215.55h3.50l-1.75 -2.85zM479.24 215.40h3.50l-1.75 -2.85zM482.78 215.52h3.50l-1.75 -2.85zM486.00 215.43h3.50l-1.75 -2.85zM489.43 215.38h3.50l-1.75 -2.85zM492.55 215.49h3.50l-1.75 -2.85zM496.24 215.53h3.50l-1.75 -2.85zM478.05 77.00h3.50l-1.75 -2.85zM477.95 145.10h3.50l-1.75 -2.85zM478.35 167.70h3.50l-1.75 -2.85zM481.55 166.00h3.50l-1.75 -2.85zM471.05 186.90h3.50l-1.75 -2.85zM474.65 188.10h3.50l-1.75 -2.85zM481.55 187.80h3.50l-1.75 -2.85zM478.05 190.00h3.50l-1.75 -2.85zM474.65 191.90h3.50l-1.75 -2.85zM481.55 193.10h3.50l-1.75 -2.85zM478.05 194.10h3.50l-1.75 -2.85zM467.75 195.00h3.50l-1.75 -2.85zM484.75 196.00h3.50l-1.75 -2.85zM471.05 196.40h3.50l-1.75 -2.85zM474.65 197.20h3.50l-1.75 -2.85zM481.55 197.20h3.50l-1.75 -2.85zM478.05 198.50h3.50l-1.75 -2.85zM464.25 198.80h3.50l-1.75 -2.85zM467.75 200.20h3.50l-1.75 -2.85zM488.45 200.80h3.50l-1.75 -2.85zM491.75 199.90h3.50l-1.75 -2.85zM471.05 201.80h3.50l-1.75 -2.85zM474.65 201.90h3.50l-1.75 -2.85zM478.05 201.90h3.50l-1.75 -2.85zM481.55 201.90h3.50l-1.75 -2.85zM484.75 201.80h3.50l-1.75 -2.85zM477.75 218.50h3.50l-1.75 -2.85zM532.45 207.40h3.10l-1.55 -2.85zM532.45 209.10h3.10l-1.55 -2.85zM532.45 210.80h3.10l-1.55 -2.85zM532.45 212.50h3.10l-1.55 -2.85zM535.74 206.91h3.10l-1.55 -2.85zM535.74 208.61h3.10l-1.55 -2.85zM535.74 210.31h3.10l-1.55 -2.85zM535.74 212.01h3.10l-1.55 -2.85zM539.03 206.63h3.10l-1.55 -2.85zM539.03 208.33h3.10l-1.55 -2.85zM539.03 210.03h3.10l-1.55 -2.85zM539.03 211.73h3.10l-1.55 -2.85zM542.33 206.48h3.10l-1.55 -2.85zM542.33 208.18h3.10l-1.55 -2.85zM542.33 209.88h3.10l-1.55 -2.85zM542.33 211.58h3.10l-1.55 -2.85zM545.62 206.42h3.10l-1.55 -2.85zM545.62 208.12h3.10l-1.55 -2.85zM545.62 209.82h3.10l-1.55 -2.85zM545.62 211.52h3.10l-1.55 -2.85zM545.62 213.22h3.10l-1.55 -2.85zM548.91 206.40h3.10l-1.55 -2.85zM548.91 208.10h3.10l-1.55 -2.85zM548.91 209.80h3.10l-1.55 -2.85zM548.91 211.50h3.10l-1.55 -2.85zM548.91 213.20h3.10l-1.55 -2.85zM552.20 206.40h3.10l-1.55 -2.85zM552.20 208.10h3.10l-1.55 -2.85zM552.20 209.80h3.10l-1.55 -2.85zM552.20 211.50h3.10l-1.55 -2.85zM552.20 213.20h3.10l-1.55 -2.85zM555.50 206.40h3.10l-1.55 -2.85zM555.50 208.10h3.10l-1.55 -2.85zM555.50 209.80h3.10l-1.55 -2.85zM555.50 211.50h3.10l-1.55 -2.85zM555.50 213.20h3.10l-1.55 -2.85zM558.79 206.40h3.10l-1.55 -2.85zM558.79 208.10h3.10l-1.55 -2.85zM558.79 209.80h3.10l-1.55 -2.85zM558.79 211.50h3.10l-1.55 -2.85zM558.79 213.20h3.10l-1.55 -2.85zM562.08 206.42h3.10l-1.55 -2.85zM562.08 208.12h3.10l-1.55 -2.85zM562.08 209.82h3.10l-1.55 -2.85zM562.08 211.52h3.10l-1.55 -2.85zM562.08 213.22h3.10l-1.55 -2.85zM565.37 206.48h3.10l-1.55 -2.85zM565.37 208.18h3.10l-1.55 -2.85zM565.37 209.88h3.10l-1.55 -2.85zM565.37 211.58h3.10l-1.55 -2.85zM568.67 206.63h3.10l-1.55 -2.85zM568.67 208.33h3.10l-1.55 -2.85zM568.67 210.03h3.10l-1.55 -2.85zM568.67 211.73h3.10l-1.55 -2.85zM571.96 206.91h3.10l-1.55 -2.85zM571.96 208.61h3.10l-1.55 -2.85zM571.96 210.31h3.10l-1.55 -2.85zM571.96 212.01h3.10l-1.55 -2.85zM575.25 207.40h3.10l-1.55 -2.85zM575.25 209.10h3.10l-1.55 -2.85zM575.25 210.80h3.10l-1.55 -2.85zM575.25 212.50h3.10l-1.55 -2.85zM535.73 212.99h3.50l-1.75 -2.85zM538.64 212.94h3.50l-1.75 -2.85zM542.38 213.05h3.50l-1.75 -2.85zM545.28 212.89h3.50l-1.75 -2.85zM548.70 213.04h3.50l-1.75 -2.85zM551.95 212.94h3.50l-1.75 -2.85zM555.40 213.10h3.50l-1.75 -2.85zM558.44 212.89h3.50l-1.75 -2.85zM561.80 212.98h3.50l-1.75 -2.85zM565.31 212.93h3.50l-1.75 -2.85zM568.68 213.06h3.50l-1.75 -2.85zM571.80 212.93h3.50l-1.75 -2.85zM534.13 214.35h3.50l-1.75 -2.85zM537.34 214.34h3.50l-1.75 -2.85zM540.28 214.46h3.50l-1.75 -2.85zM543.63 214.51h3.50l-1.75 -2.85zM547.05 214.32h3.50l-1.75 -2.85zM550.18 214.38h3.50l-1.75 -2.85zM553.75 214.51h3.50l-1.75 -2.85zM556.74 214.37h3.50l-1.75 -2.85zM560.08 214.51h3.50l-1.75 -2.85zM563.34 214.29h3.50l-1.75 -2.85zM566.59 214.37h3.50l-1.75 -2.85zM570.39 214.49h3.50l-1.75 -2.85zM573.59 214.52h3.50l-1.75 -2.85zM535.84 215.76h3.50l-1.75 -2.85zM538.70 215.90h3.50l-1.75 -2.85zM542.33 215.69h3.50l-1.75 -2.85zM545.58 215.77h3.50l-1.75 -2.85zM548.71 215.76h3.50l-1.75 -2.85zM551.89 215.68h3.50l-1.75 -2.85zM555.25 215.76h3.50l-1.75 -2.85zM558.96 215.71h3.50l-1.75 -2.85zM562.26 215.73h3.50l-1.75 -2.85zM565.20 215.88h3.50l-1.75 -2.85zM568.78 215.78h3.50l-1.75 -2.85zM571.61 215.79h3.50l-1.75 -2.85zM553.55 72.20h3.50l-1.75 -2.85zM553.65 151.50h3.50l-1.75 -2.85zM553.55 171.50h3.50l-1.75 -2.85zM550.15 184.30h3.50l-1.75 -2.85zM553.55 184.30h3.50l-1.75 -2.85zM557.05 184.30h3.50l-1.75 -2.85zM560.55 181.60h3.50l-1.75 -2.85zM553.55 190.10h3.50l-1.75 -2.85zM550.15 194.00h3.50l-1.75 -2.85zM557.05 194.60h3.50l-1.75 -2.85zM553.55 196.30h3.50l-1.75 -2.85zM560.55 197.70h3.50l-1.75 -2.85zM564.05 196.50h3.50l-1.75 -2.85zM543.15 197.50h3.50l-1.75 -2.85zM546.65 199.20h3.50l-1.75 -2.85zM550.15 200.30h3.50l-1.75 -2.85zM553.55 200.00h3.50l-1.75 -2.85zM557.05 199.40h3.50l-1.75 -2.85zM543.15 201.20h3.50l-1.75 -2.85zM546.65 201.80h3.50l-1.75 -2.85zM560.55 201.80h3.50l-1.75 -2.85zM564.05 201.80h3.50l-1.75 -2.85zM553.65 219.50h3.50l-1.75 -2.85z" fill="#000"/>
<g stroke="#e42a4a" stroke-width="1.45" stroke-dasharray="2.7 1.0 3.3 2.27" stroke-dashoffset="1.89"><line x1="57" y1="197.13" x2="285.5" y2="197.13"/><line x1="57" y1="215.33" x2="285.5" y2="215.33"/></g>
<g stroke="#e42a4a" stroke-width="1.45" stroke-dasharray="3.7 1.93" stroke-dashoffset="0.06"><line x1="367.5" y1="202.36" x2="594" y2="202.36"/><line x1="367.5" y1="216.98" x2="594" y2="216.98"/></g>
<line x1="4.9" y1="275.0" x2="598.9" y2="275.0" stroke="#999" stroke-width="1.4"/>
<line x1="4.9" y1="337.9" x2="598.9" y2="337.9" stroke="#999" stroke-width="1.4"/>
<line x1="5.7" y1="274.2" x2="5.7" y2="338.7" stroke="#858585" stroke-width="1.4"/>
<line x1="598.0" y1="274.2" x2="598.0" y2="338.7" stroke="#a5a5a5" stroke-width="1.5"/>
<text x="12.40" y="287.90" font-size="12.30" text-anchor="start" font-weight="bold">Median</text>
<text x="12.40" y="319.20" font-size="12.30" text-anchor="start" font-weight="bold">IQR</text>
<text x="104.20" y="288.00" font-size="12.00" text-anchor="middle" font-weight="normal">29</text>
<text x="175.10" y="288.00" font-size="12.00" text-anchor="middle" font-weight="normal">32</text>
<text x="236.30" y="288.00" font-size="12.00" text-anchor="middle" font-weight="normal">29</text>
<text x="397.80" y="288.00" font-size="12.00" text-anchor="middle" font-weight="normal">23</text>
<text x="480.30" y="288.00" font-size="12.00" text-anchor="middle" font-weight="normal">27</text>
<text x="559.00" y="288.00" font-size="12.00" text-anchor="middle" font-weight="normal">23</text>
<text x="104.10" y="319.20" font-size="12.00" text-anchor="middle" font-weight="normal">24-35</text>
<text x="175.50" y="319.20" font-size="12.00" text-anchor="middle" font-weight="normal">27-38</text>
<text x="236.20" y="319.20" font-size="12.00" text-anchor="middle" font-weight="normal">25-35</text>
<text x="398.10" y="319.20" font-size="12.00" text-anchor="middle" font-weight="normal">17-30</text>
<text x="480.30" y="319.20" font-size="12.00" text-anchor="middle" font-weight="normal">22-35</text>
<text x="558.80" y="319.20" font-size="12.00" text-anchor="middle" font-weight="normal">18-31</text>
</svg>
</body></html>
